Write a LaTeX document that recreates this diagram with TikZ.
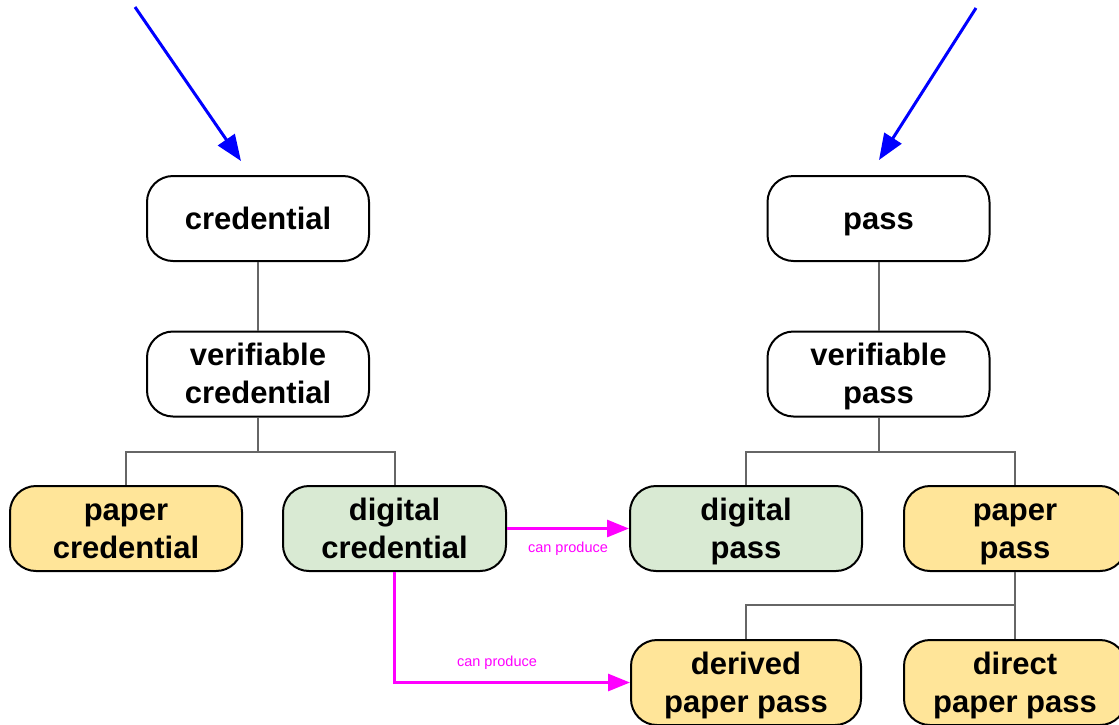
\documentclass[tikz,border=0pt]{standalone}
\usepackage{fontspec}
\setmainfont{Liberation Sans}
\usetikzlibrary{arrows.meta}
\definecolor{pyellow}{HTML}{FFE599}
\definecolor{pgreen}{HTML}{D9EAD3}
\definecolor{lgray}{HTML}{666666}
\definecolor{pmag}{HTML}{FF00FF}
\definecolor{pblue}{HTML}{0000FF}
\newcommand{\topstrut}{\rule[-11.4pt]{0pt}{44pt}}
\begin{document}
\begin{tikzpicture}[x=1pt,y=-1pt,
  box/.style={draw=black,line width=2pt,rounded corners=26pt,minimum height=85pt,
    align=center,inner sep=0pt,font=\fontsize{31}{38}\selectfont\bfseries},
  wbox/.style={box,fill=white,minimum width=222pt},
  ybox/.style={box,fill=pyellow},
  gbox/.style={box,fill=pgreen},
  tree/.style={draw=lgray,line width=2pt},
  prod/.style={draw=pmag,line width=3pt,-{Triangle[length=22pt,width=17pt]}},
  prodlbl/.style={text=pmag,font=\fontsize{14.5}{16}\selectfont},
  blue arrow/.style={draw=pblue,line width=3pt,-{Triangle[length=26pt,width=20pt]}}]
\useasboundingbox (0,0) rectangle (1119,724);
\fill[white] (0,0) rectangle (1119,724);
% nodes
\node[wbox] (cred) at (258,218.5) {\topstrut credential};
\node[wbox] (vcred) at (258,374) {\topstrut verifiable\\\strut credential};
\node[ybox,minimum width=232pt] (pcred) at (126,528.5) {\topstrut paper\\\strut credential};
\node[gbox,minimum width=223pt] (dcred) at (394.5,528.5) {\topstrut digital\\\strut credential};
\node[wbox] (pass) at (878.5,218.5) {\topstrut pass};
\node[wbox] (vpass) at (878.5,374) {\topstrut verifiable\\\strut pass};
\node[gbox,minimum width=232pt] (dpass) at (746,528.5) {\topstrut digital\\\strut pass};
\node[ybox,minimum width=222pt] (ppass) at (1015,528.5) {\topstrut paper\\\strut pass};
\node[ybox,minimum width=230pt] (dppass) at (746,682.5) {\topstrut derived\\\strut paper pass};
\node[ybox,minimum width=222pt] (drpass) at (1015,682.5) {\topstrut direct\\\strut paper pass};
% tree connectors
\coordinate (j1) at (258,452);
\coordinate (j2) at (878.5,452);
\coordinate (j3) at (1015,605);
\draw[tree] (cred.south) -- (vcred.north);
\draw[tree] (vcred.south) -- (j1);
\draw[tree] (pcred.north) |- (j1) -| (dcred.north);
\draw[tree] (pass.south) -- (vpass.north);
\draw[tree] (vpass.south) -- (j2);
\draw[tree] (dpass.north) |- (j2) -| (ppass.north);
\draw[tree] (ppass.south) -- (drpass.north);
\draw[tree] (j3) -| (dppass.north);
% can produce arrows
\draw[prod] (dcred.east) -- (dpass.west);
\node[prodlbl] (lbl1) at (568,549) {can produce};
\coordinate (bend) at (394.5,682.5);
\draw[prod] (dcred.south) -- (bend) -- (dppass.west);
\node[prodlbl] (lbl2) at (497,663) {can produce};
% blue arrows
\coordinate (b1) at (135,7);
\coordinate (b2) at (976,8);
\draw[blue arrow] (b1) -- (241,161);
\draw[blue arrow] (b2) -- (879,160);
\end{tikzpicture}
\end{document}
